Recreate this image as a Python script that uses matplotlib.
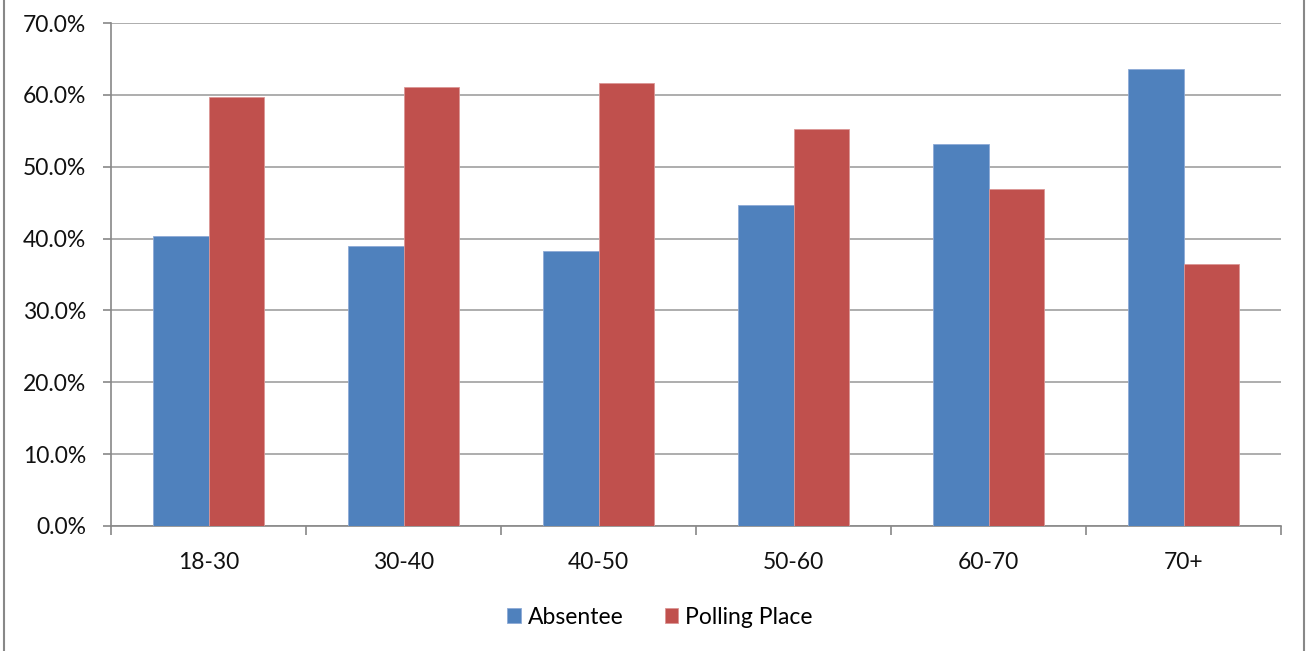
import matplotlib
matplotlib.use("Agg")
import matplotlib.pyplot as plt
from matplotlib.lines import Line2D
from matplotlib.ticker import FuncFormatter, MultipleLocator
import numpy as np

categories = ["18-30", "30-40", "40-50", "50-60", "60-70", "70+"]
absentee = [40.3, 38.9, 38.3, 44.7, 53.1, 63.6]
polling_place = [59.7, 61.1, 61.7, 55.3, 46.9, 36.4]
series_names = ["Absentee", "Polling Place"]
colors = ["#4F81BD", "#C0504D"]

plt.rcParams['font.family'] = ['Lato', 'DejaVu Sans']

fig = plt.figure(figsize=(13.1, 6.51), dpi=100)
ax = fig.add_axes([111/1310, 1-526/651, (1281-111)/1310, (526-23)/651])

x = np.arange(len(categories))
w = 1/3.5
ax.bar(x - w/2, absentee, width=w, color=colors[0], label=series_names[0],
       edgecolor="#8EAAD6", linewidth=0.6, zorder=3)
ax.bar(x + w/2, polling_place, width=w, color=colors[1], label=series_names[1],
       edgecolor="#DB9695", linewidth=0.6, zorder=3)

ax.set_xlim(-0.5, len(categories) - 0.5)
ax.set_ylim(0, 70)
ax.yaxis.set_major_locator(MultipleLocator(10))
ax.yaxis.set_major_formatter(FuncFormatter(lambda v, p: f"{v:.1f}%"))
ax.grid(axis='y', color="#A0A0A0", linewidth=1.2, zorder=0)
ax.set_axisbelow(True)

ax.set_xticks(x)
ax.set_xticklabels(categories)
ax.set_xticks(np.arange(-0.5, len(categories)), minor=True)
ax.tick_params(axis='x', which='major', length=0, pad=19, labelsize=16.5, labelcolor="#111111")
ax.tick_params(axis='x', which='minor', length=6.5, width=1.2, color="#888888", direction='out')
ax.tick_params(axis='y', length=5.8, width=1.2, color="#888888", pad=12, labelsize=16.5, labelcolor="#111111")

for s in ['top', 'right']:
    ax.spines[s].set_visible(False)
for s in ['left', 'bottom']:
    ax.spines[s].set_color("#888888")
    ax.spines[s].set_linewidth(1.2)

fig.legend(loc='center', bbox_to_anchor=(660/1310, 1-617/651), ncol=2, frameon=False,
           fontsize=16.5, handlelength=0.6, handleheight=0.6, handletextpad=0.3,
           columnspacing=1.8)

fig.add_artist(Line2D([4/1310, 4/1310], [0, 1], color="#888888", linewidth=1.5))
fig.add_artist(Line2D([1304/1310, 1304/1310], [0, 1], color="#888888", linewidth=1.5))

fig.savefig("out.png", dpi=100)
